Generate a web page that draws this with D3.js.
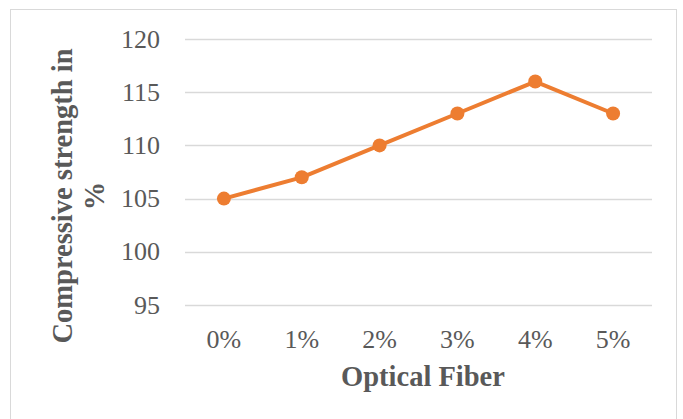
<!DOCTYPE html>
<html><head><meta charset="utf-8">
<script src="https://cdn.jsdelivr.net/npm/d3@7"></script>
<style>body{margin:0;background:#fff;}svg{display:block;}</style>
</head><body>
<script>
const categories = ["0%","1%","2%","3%","4%","5%"];
const values = [105,107,110,113,116,113];
const yTicks = [95,100,105,110,115,120];
const xTitle = "Optical Fiber";
const yTitleLines = ["Compressive strength in","%"];

const W=683,H=419;
const svg=d3.select("body").append("svg").attr("width",W).attr("height",H);
svg.append("rect").attr("x",10.5).attr("y",9.5).attr("width",666).attr("height",420)
  .attr("fill","#fff").attr("stroke","#d9d9d9").attr("stroke-width",1);

const x=d3.scaleBand().domain(categories).range([185,652]);
const y=d3.scaleLinear().domain([95,120]).range([305,39]);
const font="'Liberation Serif', 'DejaVu Serif', serif";

const g=svg.append("g");
g.selectAll("line.grid").data(yTicks).join("line")
  .attr("x1",185).attr("x2",652).attr("y1",d=>Math.round(y(d))+0.5).attr("y2",d=>Math.round(y(d))+0.5)
  .attr("stroke","#d9d9d9").attr("stroke-width",1.5);

g.selectAll("text.yt").data(yTicks).join("text")
  .attr("x",160).attr("y",d=>y(d)).attr("dy","0.33em").attr("text-anchor","end")
  .attr("font-family",font).attr("font-size",26).attr("fill","#595959").text(d=>d);

g.selectAll("text.xt").data(categories).join("text")
  .attr("x",d=>x(d)+x.bandwidth()/2).attr("y",348).attr("text-anchor","middle")
  .attr("font-family",font).attr("font-size",26).attr("fill","#595959").text(d=>d);

svg.append("text").attr("x",423).attr("y",386).attr("text-anchor","middle")
  .attr("font-family",font).attr("font-size",28.5).attr("font-weight","bold").attr("fill","#595959").text(xTitle);

const yt=svg.append("text").attr("transform","translate(72,196) rotate(-90)").attr("text-anchor","middle")
  .attr("font-family",font).attr("font-size",28.5).attr("font-weight","bold").attr("fill","#595959");
yt.selectAll("tspan").data(yTitleLines).join("tspan").attr("x",0).attr("dy",(d,i)=>i===0?0:32).text(d=>d);

const line=d3.line().x((d,i)=>x(categories[i])+x.bandwidth()/2).y(d=>y(d));
svg.append("path").datum(values).attr("d",line).attr("fill","none").attr("stroke","#ED7D31")
  .attr("stroke-width",4).attr("stroke-linejoin","round");
svg.selectAll("circle").data(values).join("circle")
  .attr("cx",(d,i)=>x(categories[i])+x.bandwidth()/2).attr("cy",d=>y(d)).attr("r",7).attr("fill","#ED7D31");
</script>
</body></html>
